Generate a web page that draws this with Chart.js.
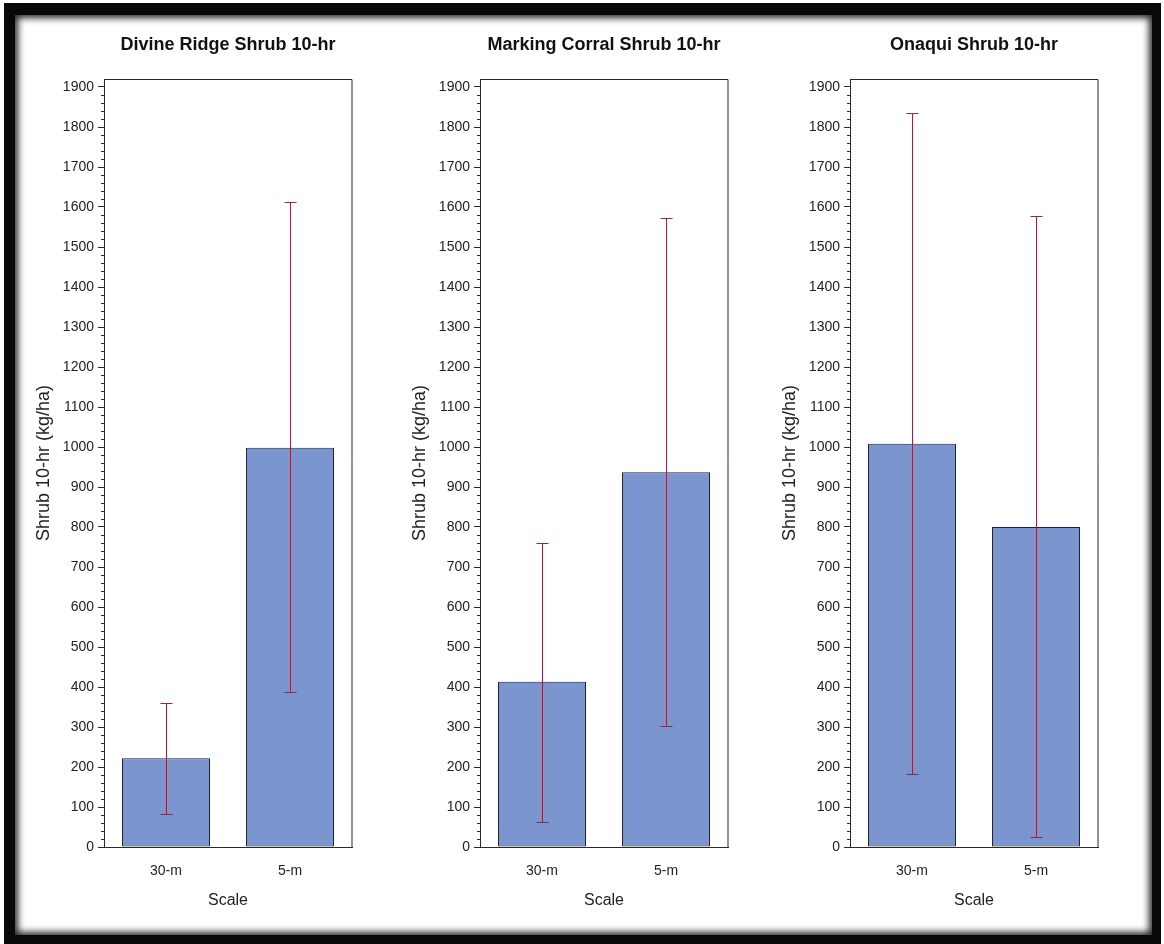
<!DOCTYPE html>
<html>
<head>
<meta charset="utf-8">
<script src="https://cdn.jsdelivr.net/npm/chart.js@4/dist/chart.umd.min.js"></script>
<style>
  html, body { margin: 0; padding: 0; }
  body { width: 1164px; height: 944px; overflow: hidden; background: #fff; position: relative;
         font-family: "Liberation Sans", Arial, sans-serif; }
  #frame { position: absolute; left: 4px; top: 3px; width: 1157px; height: 950px; background: #080808; }
  #sheet { position: absolute; left: 15px; top: 15px; width: 1137px; height: 920px; background: #fff;
           box-shadow: inset 0 0 7px 3px rgba(0,0,0,0.85); }
  canvas { position: absolute; top: 20px; }
</style>
</head>
<body>
<div id="frame"></div>
<div id="sheet"></div>
<canvas id="c1" width="350" height="910" style="left:21px"></canvas>
<canvas id="c2" width="350" height="910" style="left:397px"></canvas>
<canvas id="c3" width="350" height="910" style="left:767px"></canvas>
<script>
// Categories (measurement scale) shared by all three sites
const categories = ['30-m', '5-m'];
const siteTitles = ['Divine Ridge Shrub 10-hr', 'Marking Corral Shrub 10-hr', 'Onaqui Shrub 10-hr'];

// Mean shrub 10-hr fuel load (kg/ha) and error-bar limits per site
const divineMean = [222, 998];
const divineLow  = [82, 387];
const divineHigh = [359, 1612];

const corralMean = [413, 937];
const corralLow  = [62, 302];
const corralHigh = [760, 1573];

const onaquiMean = [1008, 800];
const onaquiLow  = [182, 25];
const onaquiHigh = [1835, 1577];

// Labelled y ticks
const yTicks = [0, 100, 200, 300, 400, 500, 600, 700, 800, 900, 1000,
                1100, 1200, 1300, 1400, 1500, 1600, 1700, 1800, 1900];
const yMax = 1920;

const FONT = '"Liberation Sans", Arial, sans-serif';
const AXIS = '#2a2a2a';
const ERR = '#8e2748';

// Frame around the plotting area, minor ticks and the panel title
const panelDecor = {
  id: 'panelDecor',
  afterDraw(chart, args, opts) {
    const { ctx, chartArea: a, scales } = chart;
    ctx.save();
    ctx.strokeStyle = AXIS;
    ctx.lineWidth = 1;
    ctx.setLineDash([]);
    ctx.beginPath();
    ctx.rect(Math.round(a.left) + 0.5, Math.round(a.top) + 0.5,
             Math.round(a.right - a.left) - 0.5, Math.round(a.bottom - a.top));
    ctx.stroke();
    // minor ticks every 20 units
    const y = scales.y;
    ctx.beginPath();
    for (let v = 20; v < yMax; v += 20) {
      if (v % 100 === 0) continue;
      const py = Math.round(y.getPixelForValue(v)) + 0.5;
      ctx.moveTo(a.left - 3, py);
      ctx.lineTo(a.left, py);
    }
    ctx.stroke();
    // title
    ctx.fillStyle = '#111';
    ctx.font = 'bold 18px ' + FONT;
    ctx.textAlign = 'center';
    ctx.textBaseline = 'middle';
    ctx.fillText(opts.text, (a.left + a.right) / 2, 25);
    ctx.restore();
  }
};

// Error bars drawn from the low/high arrays through the chart scales
const errorBars = {
  id: 'errorBars',
  afterDatasetsDraw(chart, args, opts) {
    const { ctx, scales } = chart;
    const low = opts.low, high = opts.high;
    ctx.save();
    ctx.setLineDash([]);
    ctx.lineWidth = 1;
    for (let i = 0; i < low.length; i++) {
      const x = Math.round(scales.x.getPixelForValue(i)) + 0.5;
      const yl = Math.round(scales.y.getPixelForValue(low[i])) + 0.5;
      const yh = Math.round(scales.y.getPixelForValue(high[i])) + 0.5;
      ctx.strokeStyle = ERR;
      ctx.beginPath();
      ctx.moveTo(x, yl); ctx.lineTo(x, yh);
      ctx.moveTo(x - 6, yl); ctx.lineTo(x + 6, yl);
      ctx.moveTo(x - 6, yh); ctx.lineTo(x + 6, yh);
      ctx.stroke();
    }
    ctx.restore();
  }
};

function makePanel(id, title, means, low, high) {
  return new Chart(document.getElementById(id), {
    type: 'bar',
    data: {
      labels: categories,
      datasets: [{
        data: means,
        backgroundColor: '#7b95cf',
        borderColor: '#1e2036',
        borderWidth: 1,
        borderSkipped: false,
        barPercentage: 0.71,
        categoryPercentage: 1.0
      }]
    },
    options: {
      responsive: false,
      animation: false,
      layout: { padding: { top: 59, right: 19, bottom: 0, left: 0 } },
      plugins: {
        legend: { display: false },
        tooltip: { enabled: false },
        panelDecor: { text: title },
        errorBars: { low: low, high: high }
      },
      scales: {
        x: {
          grid: { display: false, drawTicks: false },
          border: { display: true, color: AXIS, width: 1 },
          ticks: { color: '#222', font: { family: FONT, size: 14 }, padding: 16 },
          title: { display: true, text: 'Scale', color: '#222',
                   font: { family: FONT, size: 16 }, padding: { top: 0, bottom: 20 } },
          afterFit(s) { s.height = 83; }
        },
        y: {
          min: 0,
          max: yMax,
          afterBuildTicks(s) { s.ticks = yTicks.map(v => ({ value: v })); },
          grid: { drawOnChartArea: false, drawTicks: true, tickLength: 6, color: AXIS },
          border: { display: true, color: AXIS, width: 1 },
          ticks: { color: '#222', font: { family: FONT, size: 14 }, padding: 4,
                   callback: v => String(v) },
          title: { display: true, text: 'Shrub 10-hr (kg/ha)', color: '#222',
                   font: { family: FONT, size: 18 }, padding: { top: 12, bottom: 0 } },
          afterFit(s) { s.width = 83; }
        }
      }
    },
    plugins: [panelDecor, errorBars]
  });
}

makePanel('c1', siteTitles[0], divineMean, divineLow, divineHigh);
makePanel('c2', siteTitles[1], corralMean, corralLow, corralHigh);
makePanel('c3', siteTitles[2], onaquiMean, onaquiLow, onaquiHigh);
</script>
</body>
</html>
